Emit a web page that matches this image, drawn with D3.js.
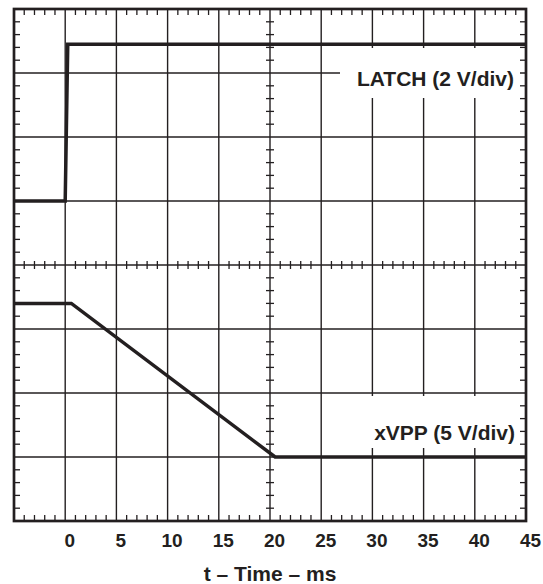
<!DOCTYPE html>
<html lang="en">
<head>
<meta charset="UTF-8">
<title>LATCH / xVPP</title>
<style>
  body { margin: 0; background: #fff; }
  text { font-family: "Liberation Sans", Arial, sans-serif; font-weight: bold; fill: #231f20; }
</style>
</head>
<body>
<svg id="chart"></svg>
<script src="https://cdn.jsdelivr.net/npm/d3@7/dist/d3.min.js"></script>
<script>
// data
var timeTicks = [0, 5, 10, 15, 20, 25, 30, 35, 40, 45];   // ms
var latchT = [-5, 0, 0.25, 45];      // ms
var latchV = [0, 0, 4.9, 4.9];       // V (2 V/div)
var vppT = [-5, 0.6, 20.5, 45];      // ms
var vppV = [12, 12, 0, 0];           // V (5 V/div)
var traceLabels = ["LATCH (2 V/div)", "xVPP (5 V/div)"];
var xTitle = "t \u2013 Time \u2013 ms";

var width = 543, height = 584;
var pLeft = 14, pRight = 526, pTop = 9, pBottom = 521;
var ink = "#231f20";

var svg = d3.select("#chart").attr("width", width).attr("height", height);

var x = d3.scaleLinear().domain([-5, 45]).range([pLeft, pRight]);
// screen has 8 vertical divisions
var yLatch = d3.scaleLinear().domain([-10, 6]).range([pBottom, pTop]);  // 2 V/div
var yVpp = d3.scaleLinear().domain([-5, 35]).range([pBottom, pTop]);    // 5 V/div

// grid lines
var gx = d3.range(0, 45, 5);          // inner vertical lines
var gy = d3.range(-8, 6, 2);          // inner horizontal lines (latch volts)

svg.append("g").selectAll("line").data(gx).enter().append("line")
  .attr("x1", function(d) { return x(d); }).attr("x2", function(d) { return x(d); })
  .attr("y1", pTop).attr("y2", pBottom)
  .attr("stroke", ink).attr("stroke-width", 1.4);

svg.append("g").selectAll("line").data(gy).enter().append("line")
  .attr("x1", pLeft).attr("x2", pRight)
  .attr("y1", function(d) { return yLatch(d); }).attr("y2", function(d) { return yLatch(d); })
  .attr("stroke", ink).attr("stroke-width", 1.4);

// minor ticks: 5 per division
var minorX = d3.range(-5, 45.01, 1).filter(function(d) { return d % 5 !== 0; });
var minorY = d3.range(-10, 6.01, 0.4).filter(function(d) { return Math.abs(d / 2 - Math.round(d / 2)) > 0.01; });
var ticks = svg.append("g").attr("stroke", ink).attr("stroke-width", 1.3);
var cx = x(20), cy = yLatch(-2), tl = 6, cl = 4;

minorX.forEach(function(d) {
  ticks.append("line").attr("x1", x(d)).attr("x2", x(d)).attr("y1", pTop).attr("y2", pTop + tl);
  ticks.append("line").attr("x1", x(d)).attr("x2", x(d)).attr("y1", pBottom).attr("y2", pBottom - tl);
  ticks.append("line").attr("x1", x(d)).attr("x2", x(d)).attr("y1", cy - cl).attr("y2", cy + cl);
});
minorY.forEach(function(d) {
  ticks.append("line").attr("y1", yLatch(d)).attr("y2", yLatch(d)).attr("x1", pLeft).attr("x2", pLeft + tl);
  ticks.append("line").attr("y1", yLatch(d)).attr("y2", yLatch(d)).attr("x1", pRight).attr("x2", pRight - tl);
  ticks.append("line").attr("y1", yLatch(d)).attr("y2", yLatch(d)).attr("x1", cx - cl).attr("x2", cx + cl);
});

// traces
var latchLine = d3.line()
  .x(function(d, i) { return x(latchT[i]); })
  .y(function(d) { return yLatch(d); });
var vppLine = d3.line()
  .x(function(d, i) { return x(vppT[i]); })
  .y(function(d) { return yVpp(d); });

svg.append("path").attr("d", latchLine(latchV))
  .attr("fill", "none").attr("stroke", ink).attr("stroke-width", 3.5);
svg.append("path").attr("d", vppLine(vppV))
  .attr("fill", "none").attr("stroke", ink).attr("stroke-width", 3.5);

// labels with white backing
svg.append("rect").attr("x", 340).attr("y", 48).attr("width", 180).attr("height", 50).attr("fill", "#fff");
svg.append("rect").attr("x", 362).attr("y", 396).attr("width", 158).attr("height", 52).attr("fill", "#fff");
svg.append("text").attr("x", 514).attr("y", 86).attr("text-anchor", "end")
  .style("font-size", "21px").text(traceLabels[0]);
svg.append("text").attr("x", 515).attr("y", 440).attr("text-anchor", "end")
  .style("font-size", "21px").text(traceLabels[1]);

// border
svg.append("rect").attr("x", pLeft).attr("y", pTop)
  .attr("width", pRight - pLeft).attr("height", pBottom - pTop)
  .attr("fill", "none").attr("stroke", ink).attr("stroke-width", 2.7);

// x axis labels
var xAxis = d3.axisBottom(x).tickValues(timeTicks).tickSize(0).tickPadding(0);
var ax = svg.append("g").attr("transform", "translate(0," + pBottom + ")").call(xAxis);
ax.select(".domain").remove();
ax.selectAll("text")
  .attr("dy", null).attr("y", 26).attr("dx", 4)
  .style("font-size", "19px").style("font-family", "Liberation Sans, Arial, sans-serif")
  .style("font-weight", "bold").attr("fill", ink);

svg.append("text").attr("x", 270).attr("y", 581).attr("text-anchor", "middle")
  .style("font-size", "21px").text(xTitle);
</script>
</body>
</html>
